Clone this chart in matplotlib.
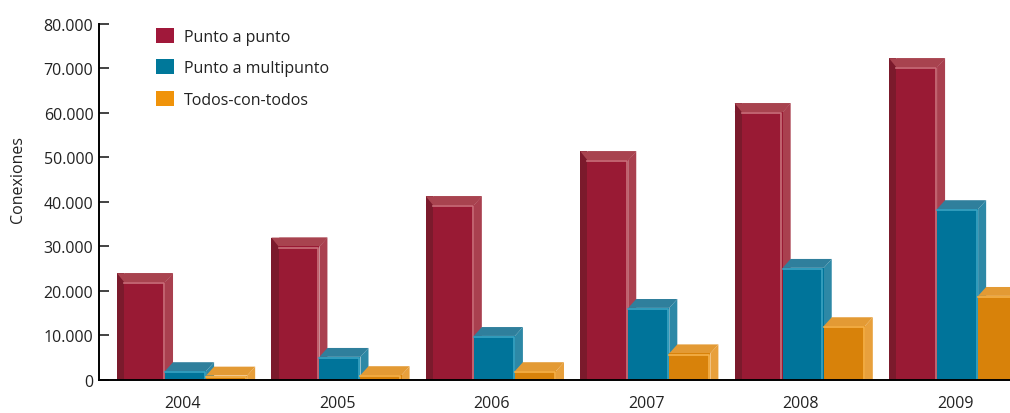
import numpy as np
import matplotlib.pyplot as plt
from matplotlib.patches import Polygon, Rectangle, Patch
from matplotlib.ticker import FuncFormatter

plt.rcParams['font.family'] = ['Open Sans', 'DejaVu Sans']

# data (front-face heights)
years = ['2004', '2005', '2006', '2007', '2008', '2009']
punto_a_punto = [22000, 30000, 39300, 49400, 60200, 70300]
punto_multipunto = [2000, 5200, 9900, 16200, 25200, 38400]
todos_con_todos = [1000, 1100, 2000, 6000, 12100, 18900]

series = [punto_a_punto, punto_multipunto, todos_con_todos]
names = ['Punto a punto', 'Punto a multipunto', 'Todos-con-todos']
# front, top, side, dark-left, highlight
colors = [
    ('#991a34', '#a8434f', '#a9404f', '#7b1a2c', '#c9707a'),
    ('#00749a', '#2f7f9c', '#2d88a6', '#005c7a', '#3aa3c2'),
    ('#d8820a', '#e39a34', '#e8a03c', '#b86c08', '#f5b24a'),
]
legend_colors = ['#a0183a', '#00789a', '#f0930a']

fig = plt.figure(figsize=(10.1, 4.14), dpi=100)
ax = fig.add_axes([0.098, 0.0797, 0.902, 0.86])

widths = [0.311, 0.266, 0.266]   # bar front widths (group units)
offsets = [-0.4275, -0.1165, 0.1495]
dx = 0.052     # 3d depth, x
dy = 2000      # 3d depth, y
x = np.arange(len(years))

for s, vals in enumerate(series):
    front, top, side, dark, hi = colors[s]
    w = widths[s]
    for i, v in enumerate(vals):
        x0 = x[i] + offsets[s]
        # right side
        ax.add_patch(Polygon([(x0 + w, 0), (x0 + w, v), (x0 + w + dx, v + dy),
                              (x0 + w + dx, 0)], closed=True, fc=side, ec='none', zorder=2 + s))
        # top
        ax.add_patch(Polygon([(x0, v), (x0 + w, v), (x0 + w + dx, v + dy),
                              (x0 + dx, v + dy)], closed=True, fc=top, ec='none', zorder=2 + s))
        if s == 0:
            # dark left bevel on the first series
            ax.add_patch(Polygon([(x0, 0), (x0, v + dy), (x0 + dx * 0.9, v + dy),
                                  (x0 + dx * 0.9, 0)], closed=True, fc=dark, ec='none', zorder=2 + s))
            ax.add_patch(Polygon([(x0, v + dy), (x0 + w + dx, v + dy), (x0 + w, v),
                                  (x0 + dx * 0.9, v)], closed=True, fc=top, ec='none', zorder=2 + s))
            ax.add_patch(Rectangle((x0 + dx * 0.9, 0), w - dx * 0.9, v, fc=front, ec='none', zorder=2 + s))
            ax.plot([x0 + dx * 0.9, x0 + w - dx * 0.15, x0 + w - dx * 0.15],
                    [v - 300, v - 300, 0], color=hi, lw=1.2, zorder=2 + s)
        else:
            ax.add_patch(Rectangle((x0, 0), w, v, fc=front, ec='none', zorder=2 + s))
            ax.plot([x0, x0 + w - dx * 0.15, x0 + w - dx * 0.15],
                    [v - 300, v - 300, 0], color=hi, lw=1.2, zorder=2 + s)

ax.set_xlim(-0.544, 5.356)
ax.set_ylim(0, 80000)
ax.set_yticks(np.arange(0, 80001, 10000))
ax.yaxis.set_major_formatter(FuncFormatter(lambda v, p: f'{int(v):,}'.replace(',', '.')))
ax.set_xticks(x)
ax.set_xticklabels(years)
ax.tick_params(axis='y', direction='in', length=7, width=1.2, pad=4, labelsize=11.5, colors='#222222')
ax.tick_params(axis='x', length=0, pad=11, labelsize=11.5, colors='#222222')
for side in ['top', 'right']:
    ax.spines[side].set_visible(False)
ax.spines['left'].set_linewidth(1.4)
ax.spines['bottom'].set_linewidth(1.4)
ax.spines['bottom'].set_zorder(10)
ax.set_ylabel('Conexiones', fontsize=11.5, color='#222222')
ax.yaxis.set_label_coords(-0.080, 0.565)

handles = [Patch(fc=c, ec='none') for c in legend_colors]
ax.legend(handles, names, loc='upper left', bbox_to_anchor=(0.047, 1.03), frameon=False,
          fontsize=11.5, handlelength=1.1, handleheight=1.1, labelspacing=0.9,
          handletextpad=0.65, labelcolor='#222222')

fig.savefig('out.png', dpi=100)
